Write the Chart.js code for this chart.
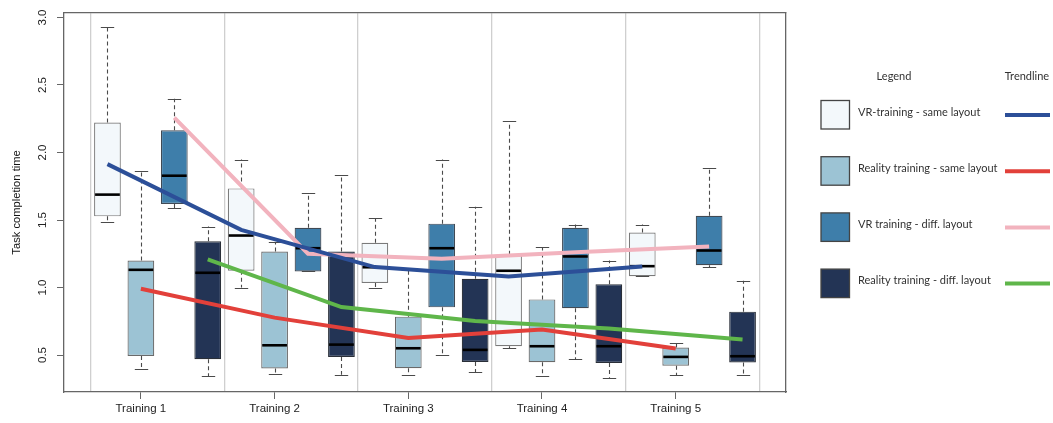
<!DOCTYPE html>
<html>
<head>
<meta charset="utf-8">
<script src="https://cdn.jsdelivr.net/npm/chart.js@4/dist/chart.umd.min.js"></script>
<style>
  html, body { margin: 0; padding: 0; background: #ffffff; }
  #wrap { width: 1053px; height: 423px; position: relative; }
</style>
</head>
<body>
<div id="wrap"><canvas id="chart" width="1053" height="423"></canvas></div>
<script>
// Categories and tick labels
const trainings = ['Training 1', 'Training 2', 'Training 3', 'Training 4', 'Training 5'];
const groupNames = [
  'VR-training - same layout',
  'Reality training - same layout',
  'VR training - diff. layout',
  'Reality training - diff. layout'
];
const yTickValues = [0.5, 1.0, 1.5, 2.0, 2.5, 3.0];

// Five-number summaries per training: [lower whisker, Q1, median, Q3, upper whisker]
const vrSameStats = [
  [1.483, 1.527, 1.688, 2.222, 2.933],
  [1.000, 1.124, 1.385, 1.734, 1.948],
  [1.000, 1.033, 1.150, 1.331, 1.515],
  [0.550, 0.565, 1.124, 1.242, 2.232],
  [1.084, 1.084, 1.158, 1.407, 1.466]
];
const realSameStats = [
  [0.400, 0.493, 1.131, 1.200, 1.865],
  [0.360, 0.400, 0.572, 1.267, 1.335],
  [0.351, 0.402, 0.550, 0.784, 1.130],
  [0.341, 0.447, 0.565, 0.912, 1.298],
  [0.351, 0.420, 0.486, 0.555, 0.589]
];
const vrDiffStats = [
  [1.589, 1.619, 1.828, 2.165, 2.399],
  [1.119, 1.119, 1.291, 1.442, 1.700],
  [0.501, 0.853, 1.291, 1.473, 1.948],
  [0.471, 0.846, 1.230, 1.442, 1.466],
  [1.151, 1.165, 1.274, 1.532, 1.882]
];
const realDiffStats = [
  [0.343, 0.469, 1.109, 1.343, 1.451],
  [0.353, 0.486, 0.577, 1.267, 1.835],
  [0.371, 0.449, 0.538, 1.065, 1.599],
  [0.331, 0.441, 0.565, 1.025, 1.200],
  [0.351, 0.445, 0.491, 0.821, 1.050]
];

// Trendlines (one value per training)
const vrSameTrend   = [1.914, 1.427, 1.151, 1.082, 1.156];
const realSameTrend = [0.991, 0.777, 0.626, 0.688, 0.548];
const vrDiffTrend   = [2.259, 1.250, 1.213, 1.262, 1.304];
const realDiffTrend = [1.208, 0.855, 0.752, 0.696, 0.614];

// Styling
const boxColors   = ['#f3f8fb', '#9cc3d4', '#3e7eaa', '#233455'];
const boxBorders  = ['#7a7a7a', '#6a6a6a', '#404a55', '#2a2f38'];
const trendColors = ['#2c4f98', '#e2403a', '#f2b3be', '#5fb64a'];

const Y_MIN = 0.226, Y_MAX = 3.034;
const X_MIN = -0.3,  X_MAX = 21.3;   // slot positions: 4 boxes per training
const axisFont = 'Liberation Sans, Arial, sans-serif';
const legendFont = 'Lato, "Open Sans", sans-serif';

const slot = (t, g) => t * 4 + g + 1;

const allStats = [vrSameStats, realSameStats, vrDiffStats, realDiffStats];
const allTrends = [vrSameTrend, realSameTrend, vrDiffTrend, realDiffTrend];

const boxDatasets = allStats.map((stats, g) => ({
  type: 'bar',
  label: groupNames[g],
  data: stats.map((s, t) => ({ x: slot(t, g), y: [s[1], s[3]] })),
  stats: stats,
  backgroundColor: boxColors[g],
  borderColor: boxBorders[g],
  borderWidth: 1.2,
  borderSkipped: false,
  grouped: false,
  barPercentage: 0.8,
  categoryPercentage: 1.0,
  order: 2
}));

const trendDatasets = allTrends.map((vals, g) => ({
  type: 'line',
  label: groupNames[g] + ' (trend)',
  data: vals.map((v, t) => ({ x: slot(t, g), y: v })),
  borderColor: trendColors[g],
  borderWidth: 4,
  pointRadius: 0,
  tension: 0,
  fill: false,
  order: 1
}));

// Whiskers, caps and medians, drawn right after each box dataset
const boxWhiskers = {
  id: 'boxWhiskers',
  afterDatasetDraw(chart, args) {
    const ds = chart.data.datasets[args.index];
    if (!ds.stats) return;
    const ctx = chart.ctx;
    const ys = chart.scales.y;
    ctx.save();
    args.meta.data.forEach((bar, i) => {
      const [lo, q1, med, q3, hi] = ds.stats[i];
      const x = Math.round(bar.x) + 0.5;
      const half = bar.width / 2;
      const cap = bar.width / 4;
      const pLo = ys.getPixelForValue(lo), pQ1 = ys.getPixelForValue(q1);
      const pMed = ys.getPixelForValue(med), pQ3 = ys.getPixelForValue(q3);
      const pHi = ys.getPixelForValue(hi);
      ctx.strokeStyle = '#4a4a4a';
      ctx.lineWidth = 1.1;
      ctx.setLineDash([4, 3]);
      ctx.beginPath();
      if (pHi < pQ3 - 0.5) { ctx.moveTo(x, pQ3); ctx.lineTo(x, pHi); }
      if (pLo > pQ1 + 0.5) { ctx.moveTo(x, pQ1); ctx.lineTo(x, pLo); }
      ctx.stroke();
      ctx.setLineDash([]);
      ctx.beginPath();
      ctx.moveTo(x - cap, Math.round(pHi) + 0.5); ctx.lineTo(x + cap, Math.round(pHi) + 0.5);
      ctx.moveTo(x - cap, Math.round(pLo) + 0.5); ctx.lineTo(x + cap, Math.round(pLo) + 0.5);
      ctx.stroke();
      ctx.strokeStyle = '#000000';
      ctx.lineWidth = 2.6;
      ctx.beginPath();
      ctx.moveTo(bar.x - half + 1, pMed); ctx.lineTo(bar.x + half - 1, pMed);
      ctx.stroke();
    });
    ctx.restore();
  }
};

// Two-column legend panel to the right of the plot
const sideLegend = {
  id: 'sideLegend',
  afterDraw(chart) {
    const ctx = chart.ctx;
    ctx.save();
    ctx.fillStyle = '#333333';
    ctx.textBaseline = 'middle';
    ctx.font = '11px ' + legendFont;
    ctx.textAlign = 'center';
    ctx.fillText('Legend', 894, 76);
    ctx.fillText('Trendline', 1027, 76);
    ctx.textAlign = 'left';
    for (let g = 0; g < 4; g++) {
      const top = 100.5 + g * 56.2;
      const bds = chart.data.datasets[g];
      const lds = chart.data.datasets[4 + g];
      ctx.fillStyle = bds.backgroundColor;
      ctx.fillRect(821, top, 28.5, 28.5);
      ctx.strokeStyle = '#444444';
      ctx.lineWidth = 1.3;
      ctx.strokeRect(821, top, 28.5, 28.5);
      ctx.fillStyle = '#333333';
      ctx.fillText(bds.label, 858, top + 11.5);
      ctx.strokeStyle = lds.borderColor;
      ctx.lineWidth = 4;
      ctx.beginPath();
      ctx.moveTo(1005, top + 14.5);
      ctx.lineTo(1050, top + 14.5);
      ctx.stroke();
    }
    ctx.restore();
  }
};

new Chart(document.getElementById('chart'), {
  type: 'bar',
  data: { datasets: [...boxDatasets, ...trendDatasets] },
  options: {
    responsive: false,
    animation: false,
    devicePixelRatio: 1,
    layout: { padding: { left: 0, right: 267, top: 12, bottom: 0 } },
    plugins: { legend: { display: false }, tooltip: { enabled: false } },
    scales: {
      x: {
        type: 'linear', position: 'bottom', min: X_MIN, max: X_MAX, offset: false,
        afterBuildTicks: s => { s.ticks = trainings.map((_, t) => ({ value: t * 4 + 2 })); },
        afterFit: s => { s.height = 31; },
        ticks: {
          callback: (v, i) => trainings[i],
          autoSkip: false, maxRotation: 0, padding: 3,
          font: { family: axisFont, size: 11.5 }, color: '#222222'
        },
        grid: { drawOnChartArea: false, tickLength: 7, color: '#666666', offset: false },
        border: { color: '#666666', width: 1.3 }
      },
      x2: {
        type: 'linear', position: 'top', min: X_MIN, max: X_MAX, offset: false,
        afterBuildTicks: s => { s.ticks = [0, 1, 2, 3, 4, 5].map(k => ({ value: k * 4 + 0.5 })); },
        afterFit: s => { s.height = 0; },
        ticks: { display: false },
        grid: { drawTicks: false, color: '#cfcfcf', lineWidth: 1.3, offset: false },
        border: { display: true, color: '#666666', width: 1.3 }
      },
      y: {
        type: 'linear', position: 'left', min: Y_MIN, max: Y_MAX,
        afterBuildTicks: s => { s.ticks = yTickValues.map(v => ({ value: v })); },
        afterFit: s => { s.width = 64; },
        ticks: {
          callback: v => v.toFixed(1),
          minRotation: 90, maxRotation: 90, crossAlign: 'center', padding: 6, autoSkip: false,
          font: { family: axisFont, size: 11.5 }, color: '#222222'
        },
        grid: { drawOnChartArea: false, tickLength: 7, color: '#666666' },
        border: { color: '#666666', width: 1.3 },
        title: {
          display: true, text: 'Task completion time', color: '#111111',
          font: { family: axisFont, size: 11.2 }, padding: { top: 10.5, bottom: 0 }
        }
      },
      y2: {
        type: 'linear', position: 'right', min: Y_MIN, max: Y_MAX,
        afterFit: s => { s.width = 0; },
        ticks: { display: false },
        grid: { drawOnChartArea: false, drawTicks: false },
        border: { display: true, color: '#666666', width: 1.3 }
      }
    }
  },
  plugins: [boxWhiskers, sideLegend]
});
</script>
</body>
</html>
